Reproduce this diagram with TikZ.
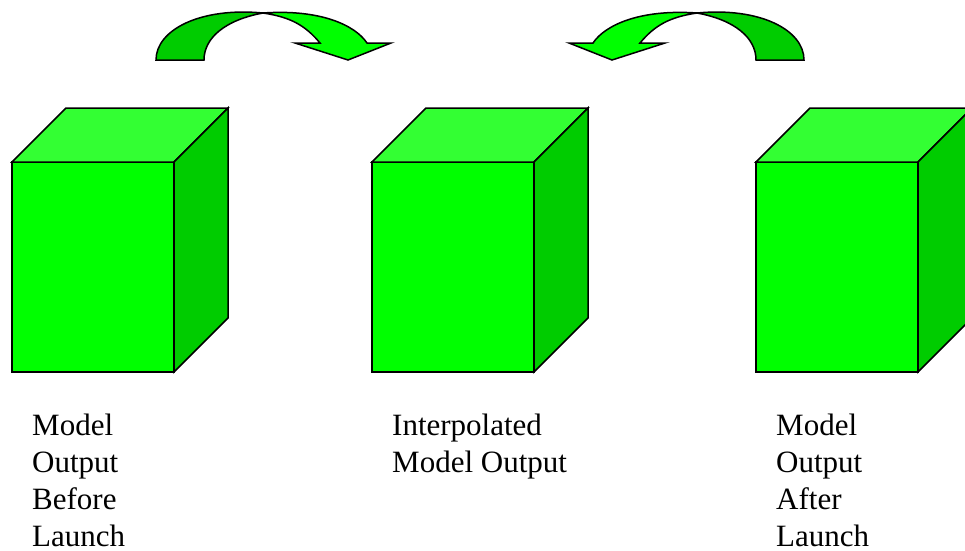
\documentclass[tikz,border=0pt]{standalone}
\usepackage{fontspec}
\setmainfont{Liberation Serif}
\definecolor{frontgreen}{HTML}{00FF00}
\definecolor{topgreen}{HTML}{33FF33}
\definecolor{sidegreen}{HTML}{00CC00}
\tikzset{
  edge/.style={draw=black, line width=1.5pt, line join=miter},
  label text/.style={font=\fontsize{31}{37}\selectfont, align=left, anchor=base west, inner sep=0pt},
}
\begin{document}
\begin{tikzpicture}[x=1pt,y=-1pt]
\useasboundingbox (0,0) rectangle (965,550);
\clip (0,0) rectangle (965,550);
% cubes
\foreach \cx/\nm in {12/a,372/b,756/c}{
  \coordinate (\nm-fl) at (\cx,162);
  \filldraw[edge, fill=frontgreen] (\cx,162) rectangle ++(162,210);
  \filldraw[edge, fill=topgreen] (\cx,162) -- ++(54,-54) -- ++(162,0) -- ++(-54,54) -- cycle;
  \filldraw[edge, fill=sidegreen] (\cx+162,162) -- ++(54,-54) -- ++(0,210) -- ++(-54,54) -- cycle;
}
% curved arrows
\foreach \mir in {1,-1}{
\begin{scope}[shift={(480,0)}, xscale=\mir, shift={(-480,0)}]
  \filldraw[edge, fill=sidegreen] (156,60) -- (204,60) .. controls (204,38) and (225,20) .. (263,13)
     .. controls (200,7) and (156,30) .. (156,60) -- cycle;
  \filldraw[edge, fill=frontgreen] (263,13) .. controls (320,9) and (355,25) .. (367,43)
     -- (391,43) -- (348,60) -- (295,43) -- (320,43) .. controls (305,25) and (290,17) .. (263,13) -- cycle;
\end{scope}
}
% labels (base anchor = baseline of last line)
\node[label text] (la) at (32,546) {Model\\Output\\Before\\Launch};
\node[label text] (lb) at (392,472) {Interpolated\\Model Output};
\node[label text] (lc) at (776,546) {Model\\Output\\After\\Launch};
\end{tikzpicture}
\end{document}
